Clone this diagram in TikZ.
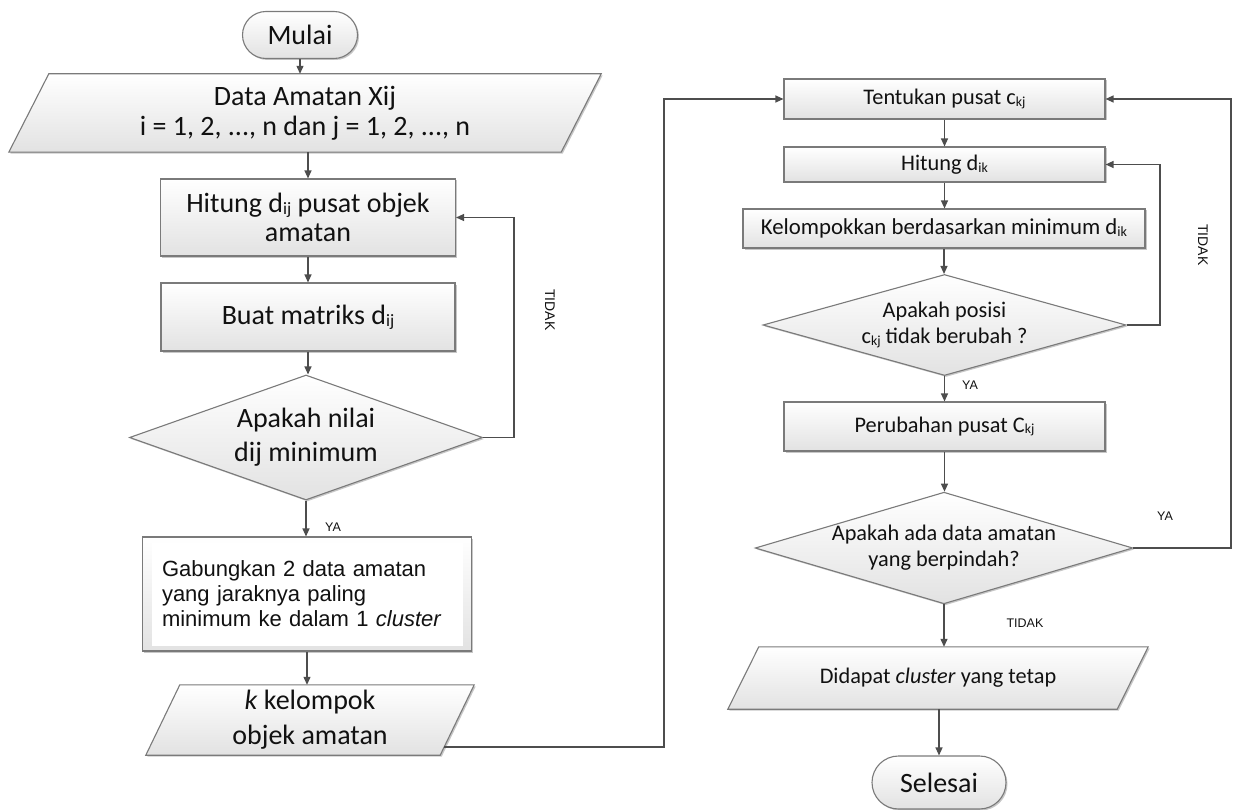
\documentclass[tikz,border=0pt]{standalone}
\usepackage{fontspec}
\usepackage{graphicx}
\setmainfont{Carlito}
\newfontfamily\arialf{Liberation Sans}
\usetikzlibrary{shapes.geometric,shapes.misc,arrows.meta,shadows,backgrounds,calc}
\definecolor{linec}{HTML}{4D4D4D}
\definecolor{bordc}{HTML}{7A7A7A}
\definecolor{fillc}{HTML}{E2E2E2}
\definecolor{textc}{HTML}{111111}
\newcommand{\lo}[1]{\raisebox{-0.08em}{\scalebox{0.62}{#1}}}
\begin{document}
\begin{tikzpicture}[x=1pt,y=-1pt,
  line/.style={draw=linec, line width=1.2pt},
  arr/.style={line, -{Triangle[length=8pt,width=7pt]}},
  face/.style={draw=bordc, line width=1.1pt, top color=white, bottom color=fillc,
    drop shadow={shadow xshift=1.5pt,shadow yshift=-1.5pt,opacity=0.22,fill=black}},
  shapebase/.style={face, inner sep=0pt, align=center, text=textc},
  bigtxt/.style={font=\fontsize{28}{29}\selectfont},
  smtxt/.style={font=\fontsize{22.3}{26}\selectfont},
  proc/.style={shapebase, rectangle},
  term/.style={shapebase, rounded rectangle},
  dec/.style={shapebase, diamond},
  paratext/.style={inner sep=0pt, align=center, text=textc},
  lbl/.style={font=\arialf\fontsize{12.5}{14}\selectfont, text=textc, inner sep=0pt},
  rlbl/.style={font=\arialf\fontsize{14}{16}\selectfont, text=textc, inner sep=0pt, rotate=-90},
]
\begin{scope}[on background layer]
\fill[white] (0,0) rectangle (1238,810);
\end{scope}
\useasboundingbox (0,0) rectangle (1238,810);

% ---------- left column ----------
\node[term,bigtxt,minimum width=115pt,minimum height=47pt] (mulai) at (300,35) {Mulai};
\node[paratext,font=\fontsize{28}{30}\selectfont,minimum width=552pt,minimum height=78pt] (data) at (305,113)
  {Data Amatan Xij\\i = 1, 2, ..., n dan j = 1, 2, ..., n};
\node[proc,font=\fontsize{28}{29}\selectfont,minimum width=295pt,minimum height=77pt] (hit1) at (308,217.5)
  {Hitung d\lo{ij} pusat objek\\amatan};
\node[proc,bigtxt,minimum width=294pt,minimum height=68pt] (buat) at (308,317) {Buat matriks d\lo{ij}};
\node[dec,font=\fontsize{28}{34}\selectfont,shape aspect=2.824,minimum width=353pt,minimum height=125pt] (dec1) at (306,437.5)
  {Apakah nilai\\dij minimum};
\node[proc,font=\arialf\fontsize{22}{25}\selectfont,align=left,text width=290pt,minimum width=329pt,minimum height=114pt,
  path picture={\fill[white] ([xshift=9pt,yshift=-6pt]path picture bounding box.north west) rectangle ([xshift=-9pt,yshift=5pt]path picture bounding box.south east);}]
  (gab) at (307,594)
  {Gabungkan 2 data amatan\\yang jaraknya paling\\minimum ke dalam 1 \textit{cluster}};
\node[paratext,font=\fontsize{28}{35}\selectfont,minimum width=294pt,minimum height=70pt] (kkel) at (310,720)
  {\textit{k} kelompok\\objek amatan};

% ---------- right column ----------
\node[proc,smtxt,minimum width=321pt,minimum height=40pt] (tent) at (944.5,99) {Tentukan pusat c\lo{kj}};
\node[proc,smtxt,minimum width=321pt,minimum height=35pt] (hit2) at (944.5,164.5) {Hitung d\lo{ik}};
\node[proc,font=\fontsize{22.8}{26}\selectfont,minimum width=402pt,minimum height=39pt] (kel) at (944,228.5) {Kelompokkan berdasarkan minimum d\lo{ik}};
\node[dec,smtxt,shape aspect=3.594,minimum width=363pt,minimum height=101pt] (dec2) at (944.5,325) {Apakah posisi\\c\lo{kj} tidak berubah ?};
\node[proc,smtxt,minimum width=321pt,minimum height=49pt] (per) at (944.5,426.5) {Perubahan pusat C\lo{kj}};
\node[dec,smtxt,shape aspect=3.382,minimum width=372pt,minimum height=110pt] (dec3) at (944,548) {Apakah ada data amatan\\yang berpindah?};
\node[paratext,smtxt,minimum width=389pt,minimum height=62pt] (did) at (938,678) {Didapat \textit{cluster} yang tetap};
\node[term,bigtxt,minimum width=134pt,minimum height=53pt] (sel) at (939,782.5) {Selesai};

% ---------- parallelogram outlines ----------
\begin{scope}[on background layer]
\path[face] ([xshift=-20pt]data.south west) -- ([xshift=20pt]data.north west) -- ([xshift=20pt]data.north east) -- ([xshift=-20pt]data.south east) -- cycle;
\path[face] ([xshift=-17pt]kkel.south west) -- ([xshift=17pt]kkel.north west) -- ([xshift=17pt]kkel.north east) -- ([xshift=-17pt]kkel.south east) -- cycle;
\path[face] ([xshift=-15.5pt]did.south west) -- ([xshift=15.5pt]did.north west) -- ([xshift=15.5pt]did.north east) -- ([xshift=-15.5pt]did.south east) -- cycle;
\end{scope}

% ---------- loop guide coordinates ----------
\coordinate (l1) at (514,0);
\coordinate (l2) at (664,747);
\coordinate (r1) at (1160,0);
\coordinate (r2) at (1231,0);

% ---------- connectors left ----------
\draw[arr] (mulai.south) -- (mulai.south |- data.north);
\draw[arr] (hit1.north |- data.south) -- (hit1.north);
\draw[arr] (hit1.south) -- (hit1.south |- buat.north);
\draw[arr] (buat.south) -- (buat.south |- dec1.north);
\draw[arr] (dec1.south) -- (dec1.south |- gab.north);
\draw[arr] (gab.south) -- (gab.south |- kkel.north);
\draw[arr] (dec1.east) -- (dec1.east -| l1) -- (l1 |- hit1.east) -- (hit1.east);
\draw[arr] ($(kkel.east)+(-13,27)$) -- (l2) -- (l2 |- tent.west) -- (tent.west);

% ---------- connectors right ----------
\draw[arr] (tent.south) -- (tent.south |- hit2.north);
\draw[arr] (hit2.south) -- (hit2.south |- kel.north);
\draw[arr] (kel.south) -- (kel.south |- dec2.north);
\draw[arr] (dec2.south) -- (dec2.south |- per.north);
\draw[arr] (per.south) -- (per.south |- dec3.north);
\draw[arr] (dec3.south) -- (dec3.south |- did.north);
\draw[arr] (sel.north |- did.south) -- (sel.north);
\draw[arr] (dec2.east) -- (dec2.east -| r1) -- (r1 |- hit2.east) -- (hit2.east);
\draw[arr] (dec3.east) -- (dec3.east -| r2) -- (r2 |- tent.east) -- (tent.east);

% ---------- labels ----------
\node[lbl] (ya1) at (333,527) {YA};
\node[rlbl] (t1) at (550,310) {TIDAK};
\node[lbl] (ya2) at (970,385) {YA};
\node[lbl] (ya3) at (1165,516) {YA};
\node[lbl] (t2) at (1025,623) {TIDAK};
\node[rlbl] (t3) at (1203,245) {TIDAK};
\end{tikzpicture}
\end{document}
